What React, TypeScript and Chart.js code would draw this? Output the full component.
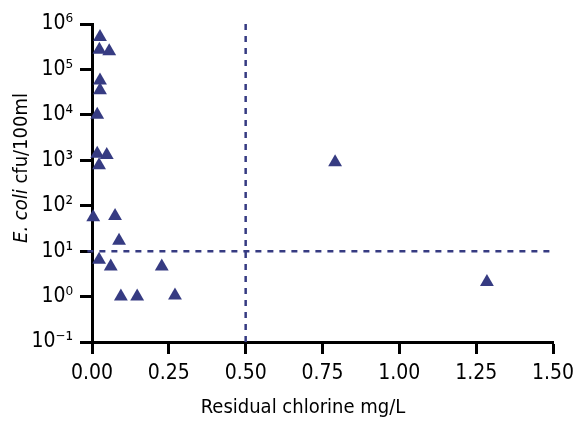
import React, { useEffect, useRef } from "react";
import { Chart, registerables } from "chart.js";

Chart.register(...registerables);

const chlorine = [0.026, 0.024, 0.056, 0.026, 0.026, 0.017, 0.017, 0.048, 0.023, 0.004, 0.075, 0.088, 0.023, 0.061, 0.227, 0.094, 0.147, 0.27, 0.791, 1.285];
const ecoli = [5.2e5, 2.7e5, 2.5e5, 5.7e4, 3.5e4, 1.0e4, 1.4e3, 1.3e3, 780, 56, 59, 17, 6.5, 4.6, 4.6, 1.0, 1.0, 1.05, 910, 2.1];
const xTicks = [0, 0.25, 0.5, 0.75, 1.0, 1.25, 1.5];
const yTicks = [0.1, 1, 10, 100, 1000, 10000, 100000, 1000000];
const chlorineLimit = 0.5;
const ecoliLimit = 10;
const xTitle = "Residual chlorine mg/L";
const yTitleItalic = "E. coli";
const yTitleRest = " cfu/100ml";

const SUP: Record<string, string> = { "-": "⁻", "0": "⁰", "1": "¹", "2": "²", "3": "³", "4": "⁴", "5": "⁵", "6": "⁶", "7": "⁷", "8": "⁸", "9": "⁹" };
const FONT = "'Liberation Sans Narrow', 'DejaVu Sans Condensed', 'Liberation Sans', sans-serif";
const NAVY = "#363b82";

export default function App() {
  const ref = useRef<HTMLCanvasElement | null>(null);
  useEffect(() => {
    const canvas = ref.current!;
    const titles = {
      id: "titles",
      afterDraw(chart: any) {
        const ctx = chart.ctx;
        ctx.save();
        ctx.fillStyle = "#000";
        ctx.textBaseline = "middle";
        ctx.font = `20px ${FONT}`;
        ctx.textAlign = "center";
        ctx.fillText(xTitle, 303, 408);
        ctx.translate(22, 168);
        ctx.rotate(-Math.PI / 2);
        ctx.textAlign = "left";
        ctx.font = `italic 20px ${FONT}`;
        const w1 = ctx.measureText(yTitleItalic).width;
        ctx.font = `20px ${FONT}`;
        const w2 = ctx.measureText(yTitleRest).width;
        const start = -(w1 + w2) / 2;
        ctx.font = `italic 20px ${FONT}`;
        ctx.fillText(yTitleItalic, start, 0);
        ctx.font = `20px ${FONT}`;
        ctx.fillText(yTitleRest, start + w1, 0);
        ctx.restore();
      },
    };
    const chart = new Chart(canvas, {
      type: "scatter",
      data: {
        datasets: [
          {
            type: "line",
            data: [
              { x: chlorineLimit, y: yTicks[0] },
              { x: chlorineLimit, y: 1.3e6 },
            ],
            borderColor: NAVY,
            borderWidth: 2.5,
            borderDash: [6, 6],
            pointRadius: 0,
            clip: false,
          } as any,
          {
            type: "line",
            data: [
              { x: -0.015, y: ecoliLimit },
              { x: 1.495, y: ecoliLimit },
            ],
            borderColor: NAVY,
            borderWidth: 2.5,
            borderDash: [6, 6],
            pointRadius: 0,
            clip: false,
          } as any,
          {
            data: chlorine.map((x, i) => ({ x, y: ecoli[i] })),
            pointStyle: "triangle",
            pointRadius: 8,
            pointBorderWidth: 0,
            borderWidth: 0,
            backgroundColor: NAVY,
            clip: false,
          } as any,
        ],
      },
      options: {
        responsive: false,
        animation: false,
        layout: { padding: { top: 24, right: 21, left: 0, bottom: 0 } },
        plugins: { legend: { display: false }, tooltip: { enabled: false } },
        scales: {
          x: {
            type: "linear",
            min: 0,
            max: 1.5,
            afterBuildTicks: (s: any) => {
              s.ticks = xTicks.map((v) => ({ value: v }));
            },
            afterFit: (s: any) => {
              s.height = 81;
              s.paddingLeft = 0;
              s.paddingRight = 0;
            },
            ticks: {
              color: "#000",
              font: { family: FONT, size: 21 },
              padding: 7,
              maxRotation: 0,
              autoSkip: false,
              callback: (v: any) => Number(v).toFixed(2),
            },
            grid: { drawOnChartArea: false, tickLength: 12, tickWidth: 3, tickColor: "#000" },
            border: { color: "#000", width: 3 },
          },
          y: {
            type: "logarithmic",
            min: 0.1,
            max: 1e6,
            afterBuildTicks: (s: any) => {
              s.ticks = yTicks.map((v) => ({ value: v }));
            },
            afterFit: (s: any) => {
              s.width = 92;
              s.paddingTop = 0;
              s.paddingBottom = 0;
            },
            ticks: {
              color: "#000",
              font: { family: FONT, size: 21 },
              padding: 7,
              autoSkip: false,
              callback: (v: any) => {
                const e = String(Math.round(Math.log10(Number(v))));
                return "10" + e.split("").map((c) => SUP[c]).join("");
              },
            },
            grid: { drawOnChartArea: false, tickLength: 12, tickWidth: 3, tickColor: "#000" },
            border: { color: "#000", width: 3 },
          },
        },
      },
      plugins: [titles],
    });
    return () => chart.destroy();
  }, []);
  return (
    <div style={{ position: "absolute", left: 0, top: 0, width: 574, height: 423 }}>
      <canvas ref={ref} width={574} height={423} style={{ display: "block" }} />
    </div>
  );
}
